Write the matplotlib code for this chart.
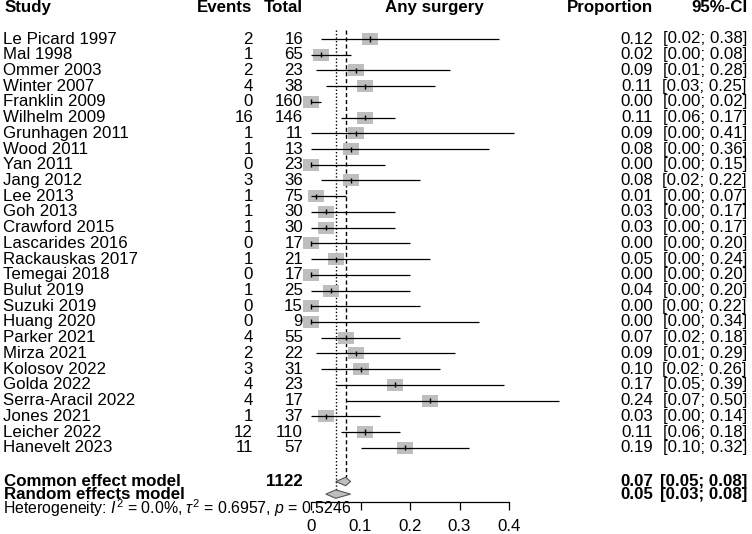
import matplotlib
matplotlib.use("Agg")
import matplotlib.pyplot as plt
import matplotlib.transforms as mtransforms
from matplotlib.patches import Rectangle, Polygon

plt.rcParams["font.family"] = ["Liberation Sans", "DejaVu Sans"]
plt.rcParams["mathtext.fontset"] = "custom"
plt.rcParams["mathtext.rm"] = "Liberation Sans"
plt.rcParams["mathtext.it"] = "Liberation Sans:italic"

# data
studies = ["Le Picard 1997", "Mal 1998", "Ommer 2003", "Winter 2007", "Franklin 2009",
           "Wilhelm 2009", "Grunhagen 2011", "Wood 2011", "Yan 2011", "Jang 2012",
           "Lee 2013", "Goh 2013", "Crawford 2015", "Lascarides 2016", "Rackauskas 2017",
           "Temegai 2018", "Bulut 2019", "Suzuki 2019", "Huang 2020", "Parker 2021",
           "Mirza 2021", "Kolosov 2022", "Golda 2022", "Serra-Aracil 2022", "Jones 2021",
           "Leicher 2022", "Hanevelt 2023"]
events = [2, 1, 2, 4, 0, 16, 1, 1, 0, 3, 1, 1, 1, 0, 1, 0, 1, 0, 0, 4, 2, 3, 4, 4, 1, 12, 11]
totals = [16, 65, 23, 38, 160, 146, 11, 13, 23, 36, 75, 30, 30, 17, 21, 17, 25, 15, 9,
          55, 22, 31, 23, 17, 37, 110, 57]
proportion = [0.12, 0.02, 0.09, 0.11, 0.00, 0.11, 0.09, 0.08, 0.00, 0.08, 0.01, 0.03, 0.03,
              0.00, 0.05, 0.00, 0.04, 0.00, 0.00, 0.07, 0.09, 0.10, 0.17, 0.24, 0.03, 0.11, 0.19]
ci_low = [0.02, 0.00, 0.01, 0.03, 0.00, 0.06, 0.00, 0.00, 0.00, 0.02, 0.00, 0.00, 0.00,
          0.00, 0.00, 0.00, 0.00, 0.00, 0.00, 0.02, 0.01, 0.02, 0.05, 0.07, 0.00, 0.06, 0.10]
ci_high = [0.38, 0.08, 0.28, 0.25, 0.02, 0.17, 0.41, 0.36, 0.15, 0.22, 0.07, 0.17, 0.17,
           0.20, 0.24, 0.20, 0.20, 0.22, 0.34, 0.18, 0.29, 0.26, 0.39, 0.50, 0.14, 0.18, 0.32]

total_n = 1122
common = [0.07, 0.05, 0.08]   # estimate, lower, upper
random_ = [0.05, 0.03, 0.08]
het_text = (r"Heterogeneity: $\mathit{I}^2$ = 0.0%, $\tau^2$ = 0.6957, "
            r"$\mathit{p}$ = 0.5246")
xticks = [0, 0.1, 0.2, 0.3, 0.4]
xtick_labels = ["0", "0.1", "0.2", "0.3", "0.4"]

W, H = 752, 534
fig = plt.figure(figsize=(W / 100, H / 100), dpi=100)
ax = fig.add_axes([0, 0, 1, 1])

# pixel layout of the original: x=0 at 311px, 495px per unit; rows 15.72px apart
x0, scale = 311, 495
row0, row_h = 39, 15.72
ax.set_xlim(-x0 / scale, (W - x0) / scale)
ax.set_ylim((H - row0) / row_h, -row0 / row_h)

for s in ["top", "left", "right"]:
    ax.spines[s].set_visible(False)
ax.set_yticks([])

fs = 12.2
tr = mtransforms.blended_transform_factory(fig.transFigure, ax.transData)

def px(x):
    return x / W

# header
hy = -2.0
ax.text(px(5), hy, "Study", transform=tr, ha="left", va="center", fontsize=fs, fontweight="bold")
ax.text(px(252), hy, "Events", transform=tr, ha="right", va="center", fontsize=fs, fontweight="bold")
ax.text(px(303), hy, "Total", transform=tr, ha="right", va="center", fontsize=fs, fontweight="bold")
ax.text(px(434), hy, "Any surgery", transform=tr, ha="center", va="center", fontsize=fs, fontweight="bold")
ax.text(px(653), hy, "Proportion", transform=tr, ha="right", va="center", fontsize=fs, fontweight="bold")
ax.text(px(747), hy, "95%-CI", transform=tr, ha="right", va="center", fontsize=fs, fontweight="bold")

rows = list(range(len(studies)))
box_w, box_h = 16 / scale, 12 / row_h

for i in rows:
    ax.text(px(3), i, studies[i], transform=tr, ha="left", va="center", fontsize=fs)
    ax.text(px(253), i, str(events[i]), transform=tr, ha="right", va="center", fontsize=fs)
    ax.text(px(303), i, str(totals[i]), transform=tr, ha="right", va="center", fontsize=fs)
    ax.text(px(653), i, f"{proportion[i]:.2f}", transform=tr, ha="right", va="center", fontsize=fs)
    ax.text(px(747), i, f"[{ci_low[i]:.2f}; {ci_high[i]:.2f}]", transform=tr,
            ha="right", va="center", fontsize=fs)
    ax.add_patch(Rectangle((proportion[i] - box_w / 2, i - box_h / 2), box_w, box_h,
                           facecolor="#bebebe", edgecolor="none", zorder=2))

ax.hlines(rows, ci_low, ci_high, color="black", lw=0.9, zorder=3)
ax.vlines(proportion, [r - 0.16 for r in rows], [r + 0.16 for r in rows],
          color="black", lw=1.0, zorder=3)

# summary rows
cy, ry = 28.15, 28.95
dh = 4.2 / row_h
for y, name, est in [(cy, "Common effect model", common), (ry, "Random effects model", random_)]:
    ax.text(px(4), y, name, transform=tr, ha="left", va="center", fontsize=fs, fontweight="bold")
    ax.text(px(653), y, f"{est[0]:.2f}", transform=tr, ha="right", va="center",
            fontsize=fs, fontweight="bold")
    ax.text(px(747), y, f"[{est[1]:.2f}; {est[2]:.2f}]", transform=tr, ha="right",
            va="center", fontsize=fs, fontweight="bold")
    ax.add_patch(Polygon([(est[1], y), (est[0], y - dh), (est[2], y), (est[0], y + dh)],
                         closed=True, facecolor="#bebebe", edgecolor="#555555", lw=0.8, zorder=3))
ax.text(px(303), cy, str(total_n), transform=tr, ha="right", va="center",
        fontsize=fs, fontweight="bold")

# reference lines for the pooled estimates
ax.vlines(common[0], -0.57, cy - dh, color="black", lw=1.0, linestyles=(0, (3, 2)), zorder=1)
ax.vlines(random_[0], -0.57, ry - dh, color="black", lw=1.0, linestyles=(0, (1, 1.5)), zorder=1)

ax.text(px(3), 29.83, het_text, transform=tr, ha="left", va="center", fontsize=11.4)

# x axis
ax.spines["bottom"].set_position(("data", 29.45))
ax.spines["bottom"].set_bounds(0, 0.4)
ax.spines["bottom"].set_linewidth(0.9)
ax.set_xticks(xticks)
ax.set_xticklabels(xtick_labels, fontsize=fs)
ax.tick_params(axis="x", direction="out", length=5.5, width=0.9, pad=7)

fig.savefig("out.png", dpi=100)
